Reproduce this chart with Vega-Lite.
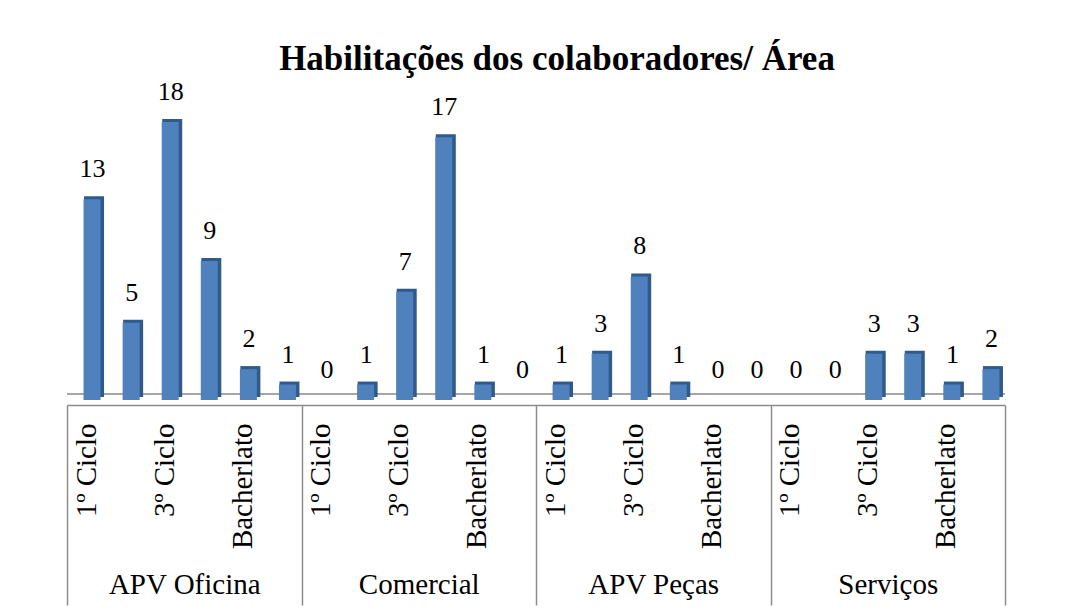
{
  "$schema": "https://vega.github.io/schema/vega-lite/v6.json",
  "width": 938,
  "height": 309,
  "autosize": {"type": "none"},
  "padding": {"left": 67, "top": 91, "right": 65, "bottom": 215},
  "background": "white",
  "config": {
    "view": {"stroke": null},
    "font": "Liberation Serif",
    "axis": {"labelFont": "Liberation Serif", "titleFont": "Liberation Serif"},
    "style": {"guide-label": {"font": "Liberation Serif"}, "guide-title": {"font": "Liberation Serif"}},
    "text": {"font": "Liberation Serif"}
  },
  "title": {
    "text": "Habilitações dos colaboradores/ Área",
    "font": "Liberation Serif",
    "fontSize": 35,
    "fontWeight": "bold",
    "color": "black",
    "anchor": "middle",
    "offset": 2,
    "dx": 21
  },
  "data": {
    "values": [
      {"area": "APV Oficina", "hab": "1º Ciclo", "key": "APV Oficina|1º Ciclo", "n": 13},
      {"area": "APV Oficina", "hab": "2º Ciclo", "key": "APV Oficina|2º Ciclo", "n": 5},
      {"area": "APV Oficina", "hab": "3º Ciclo", "key": "APV Oficina|3º Ciclo", "n": 18},
      {"area": "APV Oficina", "hab": "Secundário", "key": "APV Oficina|Secundário", "n": 9},
      {"area": "APV Oficina", "hab": "Bacherlato", "key": "APV Oficina|Bacherlato", "n": 2},
      {"area": "APV Oficina", "hab": "Licenciatura", "key": "APV Oficina|Licenciatura", "n": 1},
      {"area": "Comercial", "hab": "1º Ciclo", "key": "Comercial|1º Ciclo", "n": 0},
      {"area": "Comercial", "hab": "2º Ciclo", "key": "Comercial|2º Ciclo", "n": 1},
      {"area": "Comercial", "hab": "3º Ciclo", "key": "Comercial|3º Ciclo", "n": 7},
      {"area": "Comercial", "hab": "Secundário", "key": "Comercial|Secundário", "n": 17},
      {"area": "Comercial", "hab": "Bacherlato", "key": "Comercial|Bacherlato", "n": 1},
      {"area": "Comercial", "hab": "Licenciatura", "key": "Comercial|Licenciatura", "n": 0},
      {"area": "APV Peças", "hab": "1º Ciclo", "key": "APV Peças|1º Ciclo", "n": 1},
      {"area": "APV Peças", "hab": "2º Ciclo", "key": "APV Peças|2º Ciclo", "n": 3},
      {"area": "APV Peças", "hab": "3º Ciclo", "key": "APV Peças|3º Ciclo", "n": 8},
      {"area": "APV Peças", "hab": "Secundário", "key": "APV Peças|Secundário", "n": 1},
      {"area": "APV Peças", "hab": "Bacherlato", "key": "APV Peças|Bacherlato", "n": 0},
      {"area": "APV Peças", "hab": "Licenciatura", "key": "APV Peças|Licenciatura", "n": 0},
      {"area": "Serviços", "hab": "1º Ciclo", "key": "Serviços|1º Ciclo", "n": 0},
      {"area": "Serviços", "hab": "2º Ciclo", "key": "Serviços|2º Ciclo", "n": 0},
      {"area": "Serviços", "hab": "3º Ciclo", "key": "Serviços|3º Ciclo", "n": 3},
      {"area": "Serviços", "hab": "Secundário", "key": "Serviços|Secundário", "n": 3},
      {"area": "Serviços", "hab": "Bacherlato", "key": "Serviços|Bacherlato", "n": 1},
      {"area": "Serviços", "hab": "Licenciatura", "key": "Serviços|Licenciatura", "n": 2}
    ]
  },
  "layer": [
    {
      "mark": {"type": "rule", "color": "#a6a6a6", "strokeWidth": 1.5, "yOffset": -6},
      "encoding": {"y": {"datum": 0, "type": "quantitative", "scale": {"domain": [0, 20]}, "axis": null}}
    },
    {
      "mark": {"type": "point", "opacity": 0},
      "encoding": {
        "x": {
          "field": "area",
          "type": "nominal",
          "sort": null,
          "scale": {"paddingInner": 0, "paddingOuter": 0},
          "axis": {
            "orient": "bottom",
            "offset": 5,
            "title": null,
            "domain": false,
            "tickBand": "extent",
            "tickSize": 200,
            "tickColor": "#8c8c8c",
            "tickWidth": 1.5,
            "labelPadding": -35,
            "labelFontSize": 29,
            "labelFont": "Liberation Serif",
            "labelColor": "black",
            "labelAngle": 0
          }
        }
      }
    },
    {
      "encoding": {
        "x": {
          "field": "key",
          "type": "nominal",
          "sort": null,
          "scale": {"paddingInner": 0, "paddingOuter": 0},
          "axis": {
            "orient": "bottom",
            "offset": 5,
            "title": null,
            "domainColor": "#8c8c8c",
            "domainWidth": 1.5,
            "ticks": false,
            "labelPadding": 18,
            "labelAngle": -90,
            "labelFontSize": 29,
            "labelFont": "Liberation Serif",
            "labelColor": "black",
            "labelOverlap": false,
            "labelBound": false,
            "labelExpr": "indexof(['1º Ciclo','3º Ciclo','Bacherlato'], split(datum.value,'|')[1]) >= 0 ? split(datum.value,'|')[1] : ''"
          }
        },
        "y": {"field": "n", "type": "quantitative", "scale": {"domain": [0, 20]}, "axis": null}
      },
      "layer": [
        {"mark": {"type": "bar", "color": "#2F5A8B", "width": 20, "xOffset": 7.5, "yOffset": -3, "y2Offset": -3}},
        {"mark": {"type": "bar", "color": "#4F81BD", "width": 17, "xOffset": 5.5}},
        {
          "mark": {"type": "text", "fontSize": 26, "font": "Liberation Serif", "color": "black", "baseline": "bottom", "dy": -17, "xOffset": 6},
          "encoding": {"text": {"field": "n", "type": "quantitative"}}
        }
      ]
    }
  ],
  "resolve": {"scale": {"x": "independent"}, "axis": {"x": "independent"}}
}
